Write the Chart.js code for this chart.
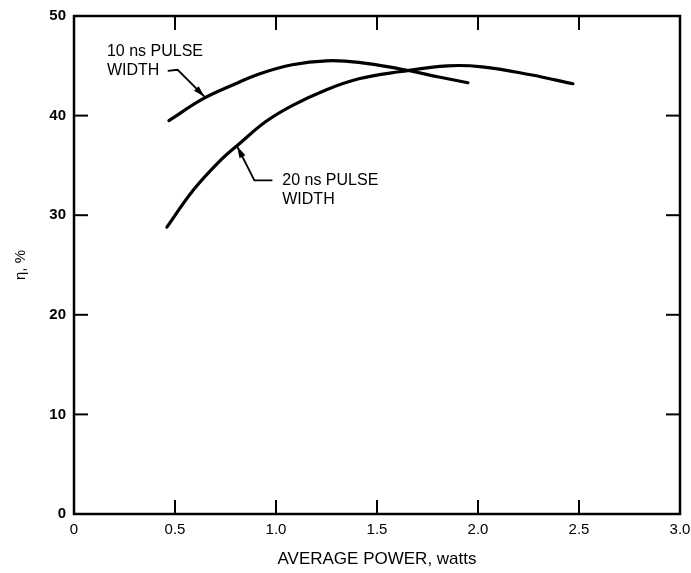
<!DOCTYPE html>
<html>
<head>
  <title>Efficiency vs average power</title>
  <script src="https://cdn.jsdelivr.net/npm/chart.js"></script>
  <style>
    body { margin: 0; background: #fff; }
  </style>
</head>
<body>
  <canvas id="grafico" width="691" height="573"></canvas>

  <script>
    // values (x = average power in watts, y = efficiency %)
    var power10ns = [0.47, 0.64, 0.80, 0.92, 1.08, 1.25, 1.41, 1.61, 1.80, 1.95];
    var eff10ns   = [39.5, 41.7, 43.2, 44.2, 45.1, 45.5, 45.35, 44.7, 43.9, 43.3];
    var power20ns = [0.46, 0.59, 0.72, 0.82, 0.95, 1.08, 1.25, 1.41, 1.61, 1.85, 2.02, 2.26, 2.47];
    var eff20ns   = [28.8, 32.5, 35.4, 37.2, 39.4, 41.0, 42.6, 43.7, 44.4, 45.0, 44.9, 44.1, 43.2];
    var xTicks = [0, 0.5, 1.0, 1.5, 2.0, 2.5, 3.0];
    var yTicks = [0, 10, 20, 30, 40, 50];
    var label10 = ['10 ns PULSE', 'WIDTH'];
    var label20 = ['20 ns PULSE', 'WIDTH'];

    function toPoints(xs, ys) {
      return xs.map(function(x, i) { return { x: x, y: ys[i] }; });
    }

    var fuente = 'Liberation Sans, Arial, sans-serif';

    // frame, inward ticks and the two callouts
    var extras = {
      id: 'extras',
      afterDraw: function(chart) {
        var ctx = chart.ctx, a = chart.chartArea;
        var sx = chart.scales.x, sy = chart.scales.y;
        ctx.save();
        ctx.strokeStyle = '#000';
        ctx.lineWidth = 2;
        xTicks.forEach(function(v) {
          if (v === 0 || v === 3) return;
          var px = sx.getPixelForValue(v);
          ctx.beginPath(); ctx.moveTo(px, a.bottom); ctx.lineTo(px, a.bottom - 14); ctx.stroke();
          ctx.beginPath(); ctx.moveTo(px, a.top); ctx.lineTo(px, a.top + 14); ctx.stroke();
        });
        yTicks.forEach(function(v) {
          if (v === 0 || v === 50) return;
          var py = sy.getPixelForValue(v);
          ctx.beginPath(); ctx.moveTo(a.left, py); ctx.lineTo(a.left + 14, py); ctx.stroke();
          ctx.beginPath(); ctx.moveTo(a.right, py); ctx.lineTo(a.right - 14, py); ctx.stroke();
        });
        ctx.lineWidth = 2.5;
        ctx.strokeRect(a.left, a.top, a.right - a.left, a.bottom - a.top);

        function P(x, y) { return [sx.getPixelForValue(x), sy.getPixelForValue(y)]; }
        function leader(pts) {
          ctx.lineWidth = 1.8;
          ctx.beginPath();
          ctx.moveTo(pts[0][0], pts[0][1]);
          for (var i = 1; i < pts.length; i++) ctx.lineTo(pts[i][0], pts[i][1]);
          ctx.stroke();
          var t = pts[pts.length - 1], f = pts[pts.length - 2];
          var ang = Math.atan2(t[1] - f[1], t[0] - f[0]);
          ctx.beginPath();
          ctx.moveTo(t[0], t[1]);
          ctx.lineTo(t[0] - 12 * Math.cos(ang - 0.28), t[1] - 12 * Math.sin(ang - 0.28));
          ctx.lineTo(t[0] - 12 * Math.cos(ang + 0.28), t[1] - 12 * Math.sin(ang + 0.28));
          ctx.closePath();
          ctx.fillStyle = '#000';
          ctx.fill();
        }
        leader([P(0.464, 44.5), P(0.513, 44.6), P(0.646, 41.9)]);
        leader([P(0.982, 33.5), P(0.893, 33.5), P(0.808, 36.9)]);

        ctx.fillStyle = '#000';
        ctx.font = '16px ' + fuente;
        ctx.textBaseline = 'middle';
        ctx.textAlign = 'left';
        var p = P(0.163, 46.4);
        ctx.fillText(label10[0], p[0], p[1]);
        p = P(0.163, 44.5);
        ctx.fillText(label10[1], p[0], p[1]);
        p = P(1.031, 33.5);
        ctx.fillText(label20[0], p[0], p[1]);
        p = P(1.031, 31.6);
        ctx.fillText(label20[1], p[0], p[1]);
        ctx.restore();
      }
    };

    var ctx = document.getElementById('grafico').getContext('2d');
    new Chart(ctx, {
      type: 'line',
      data: {
        datasets: [{
          label: '10 ns',
          data: toPoints(power10ns, eff10ns),
          borderColor: '#000',
          borderWidth: 3.2,
          pointRadius: 0,
          tension: 0.4,
          borderCapStyle: 'round',
          fill: false
        }, {
          label: '20 ns',
          data: toPoints(power20ns, eff20ns),
          borderColor: '#000',
          borderWidth: 3.2,
          pointRadius: 0,
          tension: 0.4,
          borderCapStyle: 'round',
          fill: false
        }]
      },
      options: {
        responsive: false,
        animation: false,
        layout: { autoPadding: false, padding: { top: 16, right: 11, left: 0, bottom: 0 } },
        plugins: { legend: { display: false }, tooltip: { enabled: false } },
        scales: {
          x: {
            type: 'linear',
            min: 0, max: 3,
            afterFit: function(s) { s.height = 59; s.paddingLeft = 0; s.paddingRight = 0; },
            afterBuildTicks: function(s) { s.ticks = xTicks.map(function(v) { return { value: v }; }); },
            grid: { display: false, drawTicks: false },
            border: { display: false },
            ticks: {
              color: '#000',
              padding: 7,
              maxRotation: 0,
              font: { family: fuente, size: 15 },
              callback: function(v) { return v === 0 ? '0' : v.toFixed(1); }
            },
            title: {
              display: true,
              text: 'AVERAGE POWER, watts',
              color: '#000',
              font: { family: fuente, size: 17 },
              padding: { top: 10, bottom: 3 }
            }
          },
          y: {
            min: 0, max: 50,
            afterFit: function(s) { s.width = 74; s.paddingTop = 0; s.paddingBottom = 0; },
            afterBuildTicks: function(s) { s.ticks = yTicks.map(function(v) { return { value: v }; }); },
            grid: { display: false, drawTicks: false },
            border: { display: false },
            ticks: {
              color: '#000',
              padding: 8,
              font: { family: fuente, size: 15, weight: 'bold' }
            },
            title: {
              display: true,
              text: 'η, %',
              color: '#000',
              font: { family: fuente, size: 15 },
              padding: { top: 12, bottom: 0 }
            }
          }
        }
      },
      plugins: [extras]
    });
  </script>
</body>
</html>
